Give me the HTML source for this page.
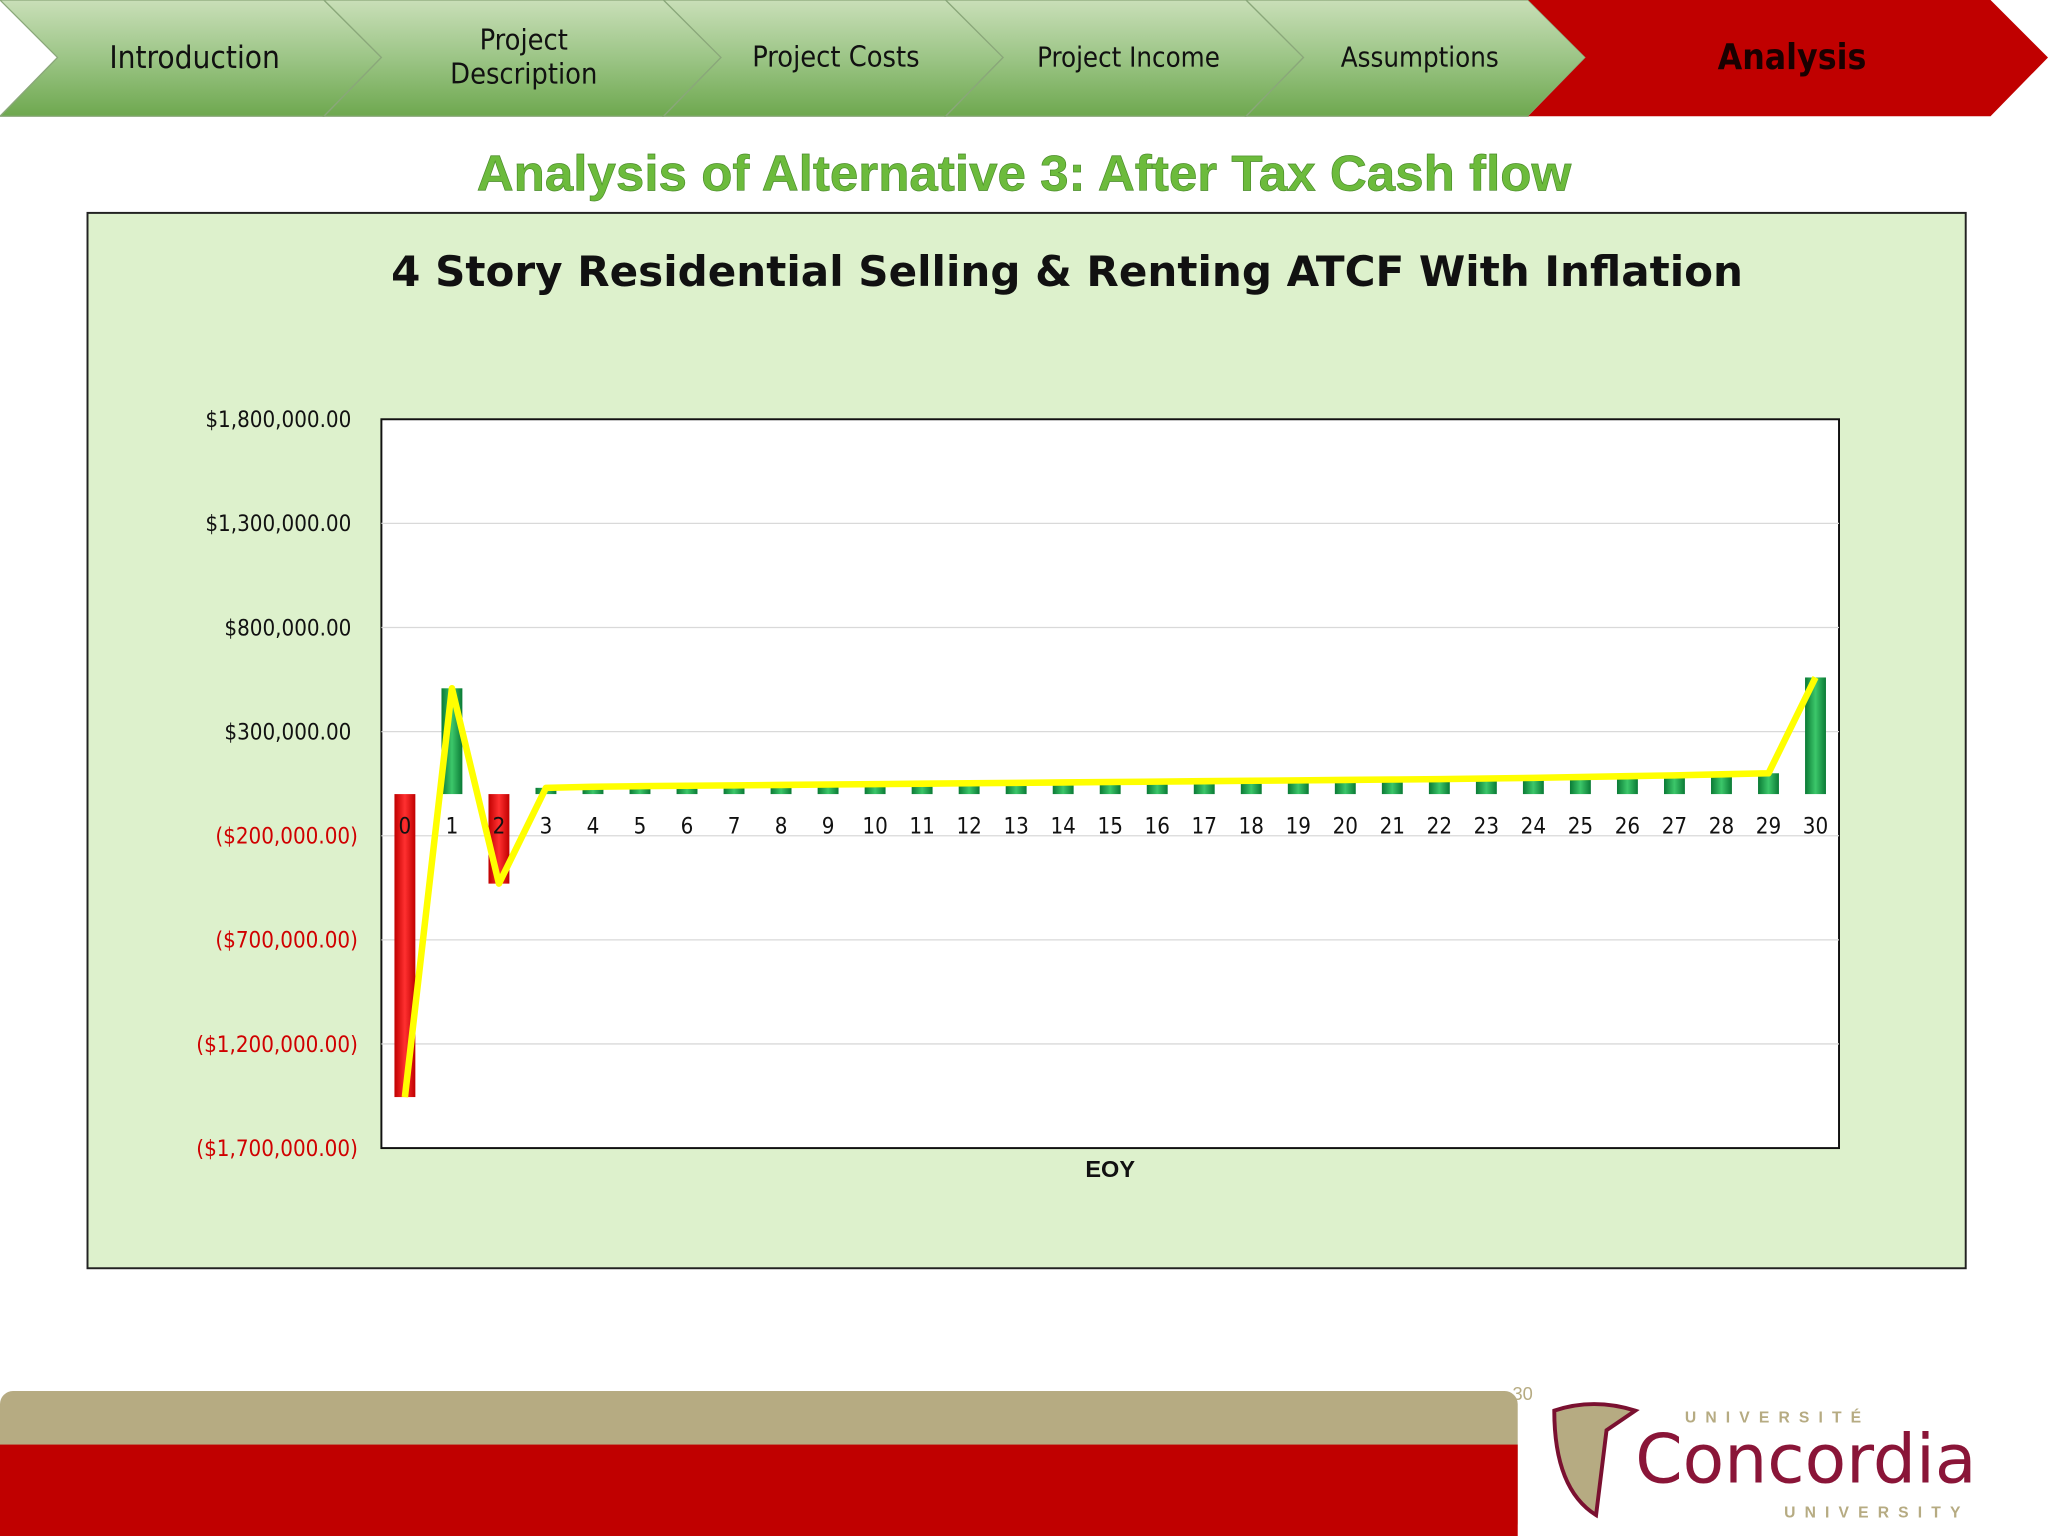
<!DOCTYPE html>
<html><head><meta charset="utf-8"><style>
html,body{margin:0;padding:0;background:#fff;}
svg{display:block;font-family:"Liberation Sans","DejaVu Sans",sans-serif;}
</style></head><body>
<svg id="s" width="2048" height="1536" viewBox="0 0 1568 1176">
<defs>
<linearGradient id="gg" x1="0" y1="0" x2="0" y2="1"><stop offset="0" stop-color="#c9dfb8"/><stop offset="0.5" stop-color="#9cc586"/><stop offset="1" stop-color="#6ea84f"/></linearGradient>
<linearGradient id="bg" x1="0" y1="0" x2="1" y2="0"><stop offset="0" stop-color="#0a7a35"/><stop offset="0.5" stop-color="#3cc76a"/><stop offset="1" stop-color="#0a7a35"/></linearGradient>
<linearGradient id="br" x1="0" y1="0" x2="1" y2="0"><stop offset="0" stop-color="#c00000"/><stop offset="0.5" stop-color="#ff3030"/><stop offset="1" stop-color="#c00000"/></linearGradient>
</defs>
<g>
<polygon points="0,0 248,0 292,44 248,89 0,89 44,44" fill="url(#gg)" stroke="#8aa77a"/>
<polygon points="248,0 508,0 552,44 508,89 248,89 292,44" fill="url(#gg)" stroke="#8aa77a"/>
<polygon points="508,0 724,0 768,44 724,89 508,89 552,44" fill="url(#gg)" stroke="#8aa77a"/>
<polygon points="724,0 954,0 998,44 954,89 724,89 768,44" fill="url(#gg)" stroke="#8aa77a"/>
<polygon points="954,0 1170,0 1214,44 1170,89 954,89 998,44" fill="url(#gg)" stroke="#8aa77a"/>
<polygon points="1170,0 1524,0 1568,44 1524,89 1170,89 1214,44" fill="#c00000"/>
<g font-family="DejaVu Sans Condensed, DejaVu Sans, sans-serif" fill="#111" text-anchor="middle">
<text x="149" y="52" font-size="24">Introduction</text>
<text x="401" y="38" font-size="22">Project</text>
<text x="401" y="64" font-size="22">Description</text>
<text x="640" y="51" font-size="22">Project Costs</text>
<text x="864" y="51" font-size="21">Project Income</text>
<text x="1087" y="51" font-size="21">Assumptions</text>
<text x="1372" y="53" font-size="27" font-weight="bold" fill="#1a0000">Analysis</text>
</g></g>
<text x="784" y="146" text-anchor="middle" font-size="38" font-weight="bold" fill="#6cbb3c" stroke="#4a8a2a" stroke-width="0.5" textLength="838" lengthAdjust="spacingAndGlyphs">Analysis of Alternative 3: After Tax Cash flow</text>
<rect x="67" y="163" width="1438" height="808" fill="#ddf1cc" stroke="#222" stroke-width="1.5"/>
<text x="817" y="219" text-anchor="middle" font-size="32" font-weight="bold" fill="#111" font-family="DejaVu Sans, sans-serif" textLength="1035" lengthAdjust="spacingAndGlyphs">4 Story Residential Selling &amp; Renting ATCF With Inflation</text>
<rect x="292" y="321" width="1116" height="558" fill="#fff" stroke="#111" stroke-width="1.5"/>
<g id="grid"></g><g id="bars"></g><g id="line"></g><g id="labels"></g>
<text x="850" y="901" text-anchor="middle" font-size="18" font-weight="bold" fill="#111">EOY</text>
<g>
<rect x="0" y="1065" width="1162" height="111" rx="10" fill="#b6ab82"/>
<rect x="0" y="1106" width="1162" height="70" fill="#c00000"/>
<text x="1158" y="1072" font-size="14" fill="#b6ab82">30</text>
<path d="M1190,1080 Q1220,1070 1252,1080 L1230,1095 L1222,1160 Q1190,1140 1190,1080Z" fill="#b6ab82" stroke="#7a1030" stroke-width="3"/>
<text x="1290" y="1089" font-size="12" letter-spacing="7" fill="#b6ab82" font-weight="bold">UNIVERSITÉ</text>
<text x="1252" y="1135" font-size="52" fill="#8a1538" font-family="DejaVu Sans, sans-serif">Concordia</text>
<text x="1366" y="1162" font-size="12" letter-spacing="7" fill="#b6ab82" font-weight="bold">UNIVERSITY</text>
</g>
</svg>
<script>
const categories=[0,1,2,3,4,5,6,7,8,9,10,11,12,13,14,15,16,17,18,19,20,21,22,23,24,25,26,27,28,29,30];
const atcfValues=[-1455000,508000,-430000,30000,35000,38000,40000,42000,44000,46000,48000,50000,52000,54000,56000,58000,60000,62000,64000,66000,68000,70000,72000,75000,78000,82000,86000,90000,95000,100000,560000];
const yTicks=[1800000,1300000,800000,300000,-200000,-700000,-1200000,-1700000];
const yTickLabels=["$1,800,000.00","$1,300,000.00","$800,000.00","$300,000.00","($200,000.00)","($700,000.00)","($1,200,000.00)","($1,700,000.00)"];
const NS="http://www.w3.org/2000/svg";
const X0=292,W=1116,Y0=321,H=558,ymax=1800000,ymin=-1700000;
const y=v=>Y0+(ymax-v)/(ymax-ymin)*H;
const bw=W/categories.length;
const x=i=>X0+bw*(i+0.5);
function mk(t,a,p){const e=document.createElementNS(NS,t);for(const k in a)e.setAttribute(k,a[k]);p.appendChild(e);return e;}
const g=document.getElementById('grid'),b=document.getElementById('bars'),l=document.getElementById('line'),lb=document.getElementById('labels');
const cf="DejaVu Sans Condensed, DejaVu Sans, sans-serif";
yTicks.forEach((v,i)=>{
 if(i>0&&i<yTicks.length-1){const ln=mk('line',{x1:X0,x2:X0+W,y1:y(v),y2:y(v),stroke:'#d9d9d9'},g);
 
 }
 const t=mk('text',{x:v<0?274:269,y:y(v)+6,'text-anchor':'end','font-size':17,'font-family':cf,fill:v<0?'#d00000':'#111'},g);
 t.textContent=yTickLabels[i];
 
 
});
const zero=y(0);
atcfValues.forEach((v,i)=>{
 const top=Math.min(y(v),zero),h=Math.abs(y(v)-zero);
 const r=mk('rect',{x:x(i)-8,y:top,width:16,height:Math.max(h,1),fill:v<0?'url(#br)':'url(#bg)'},b);
 
 
 const t=mk('text',{x:x(i),y:zero+30,'text-anchor':'middle','font-size':17,'font-family':cf,fill:'#111'},lb);
 t.textContent=categories[i];
 
 
});
const p=mk('polyline',{points:atcfValues.map((v,i)=>x(i)+','+y(v)).join(' '),fill:'none',stroke:'#ffff00','stroke-width':5,'stroke-linejoin':'round'},l);


</script>
</body></html>
